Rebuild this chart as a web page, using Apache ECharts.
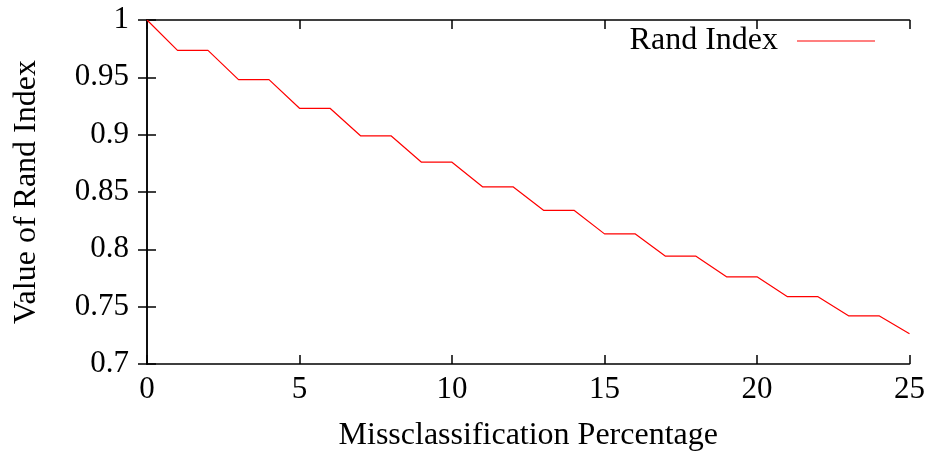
<!DOCTYPE html>
<html>
<head>
<meta charset="utf-8">
<script src="https://cdn.jsdelivr.net/npm/echarts@6/dist/echarts.min.js"></script>
<style>html,body{margin:0;padding:0;background:#fff;}#c{width:928px;height:457px;}</style>
</head>
<body>
<div id="c"></div>
<script>
const xValues = [0,1,2,3,4,5,6,7,8,9,10,11,12,13,14,15,16,17,18,19,20,21,22,23,24,25];
const randIndex = [1.0,0.9735,0.9735,0.948,0.948,0.923,0.923,0.899,0.899,0.876,0.876,0.8545,0.8545,0.834,0.834,0.8135,0.8135,0.794,0.794,0.776,0.776,0.7587,0.7587,0.742,0.742,0.7263];
const seriesName = 'Rand Index';
const xTitle = 'Missclassification Percentage';
const yTitle = 'Value of Rand Index';

const font = "'Liberation Serif', 'DejaVu Serif', serif";
const fs = 31;
const fsTitle = 32;
const axisLine = {show: true, lineStyle: {color: '#000', width: 1.5}};
const ticks = {show: true, inside: true, length: 9, lineStyle: {color: '#000', width: 1.5}};
const chart = echarts.init(document.getElementById('c'), null, {renderer: 'canvas'});
chart.setOption({
  animation: false,
  backgroundColor: '#fff',
  grid: {left: 147, right: 18, top: 20, bottom: 90, containLabel: false},
  legend: {
    data: [{name: seriesName, icon: 'rect'}],
    right: 53, top: 25, align: 'right',
    itemWidth: 78, itemHeight: 1, itemGap: 10, padding: 0,
    textStyle: {fontFamily: font, fontSize: fsTitle, color: '#000', padding: [0, 14, 0, 0]}
  },
  xAxis: [{
    type: 'value', min: 0, max: 25, interval: 5,
    name: xTitle, nameLocation: 'middle', nameGap: 56,
    nameTextStyle: {fontFamily: font, fontSize: fsTitle, color: '#000'},
    axisLine: axisLine, axisTick: ticks, splitLine: {show: false},
    axisLabel: {fontFamily: font, fontSize: fs, color: '#000', margin: 10}
  }, {
    type: 'value', min: 0, max: 25, interval: 5, position: 'top',
    axisLine: axisLine, axisTick: ticks, splitLine: {show: false},
    axisLabel: {show: false}
  }],
  yAxis: [{
    type: 'value', min: 0.7, max: 1.0, interval: 0.05,
    name: yTitle, nameLocation: 'middle', nameGap: 104, nameRotate: 90,
    nameTextStyle: {fontFamily: font, fontSize: fsTitle, color: '#000'},
    axisLine: axisLine, axisTick: ticks, splitLine: {show: false},
    axisLabel: {fontFamily: font, fontSize: fs, color: '#000', margin: 18,
      formatter: v => String(parseFloat(v.toFixed(2)))}
  }, {
    type: 'value', min: 0.7, max: 1.0, interval: 0.05, position: 'right',
    axisLine: axisLine, axisTick: ticks, splitLine: {show: false},
    axisLabel: {show: false}
  }],
  series: [{
    name: seriesName, type: 'line', z: 10,
    data: xValues.map((x, i) => [x, randIndex[i]]),
    showSymbol: false, symbol: 'none',
    lineStyle: {color: '#ff0000', width: 1.2},
    itemStyle: {color: '#ff0000'}
  }]
});
</script>
</body>
</html>
